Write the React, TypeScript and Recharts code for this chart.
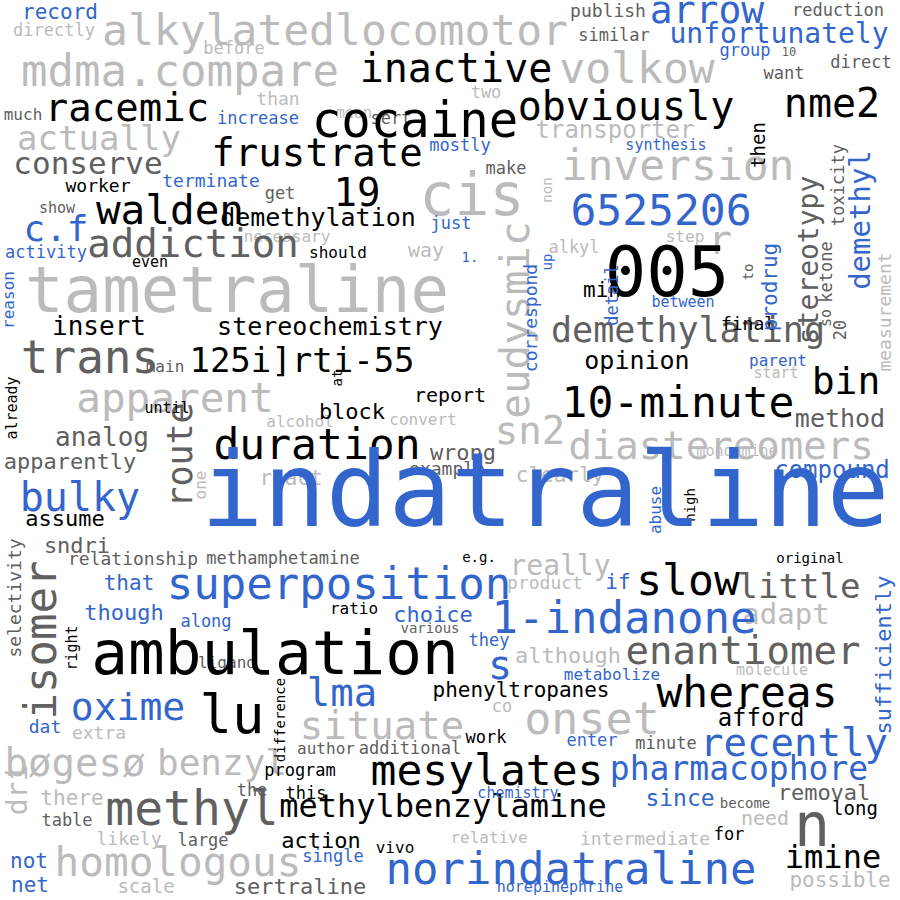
import { ScatterChart, Scatter, XAxis, YAxis } from "recharts";

// [word, x, y, weight, vertical]
type W = [string, number, number, number, number?];

const blueWords: W[] = [
  ["indatraline", 545, 490, 104], ["arrow", 707, 10, 38], ["unfortunately", 779, 33, 28],
  ["6525206", 661, 210, 43], ["c.f", 56, 228, 36], ["demethyl", 860, 220, 29, 1],
  ["bulky", 80, 497, 40], ["compound", 832, 470, 24], ["superposition", 339, 583, 44],
  ["1-indanone", 624, 617, 44], ["that", 129, 583, 21], ["if", 618, 582, 21],
  ["though", 124, 612, 22], ["choice", 433, 614, 22], ["along", 206, 621, 17],
  ["s", 500, 665, 40], ["they", 489, 640, 17], ["metabolize", 612, 674, 16],
  ["lma", 342, 692, 39], ["oxime", 128, 707, 38], ["sufficiently", 883, 655, 22, 1],
  ["dat", 45, 726, 18], ["recently", 794, 742, 39], ["enter", 592, 740, 17],
  ["pharmacophore", 739, 768, 33], ["since", 680, 798, 23], ["chemistry", 518, 793, 15],
  ["single", 333, 856, 17], ["norindatraline", 571, 868, 44], ["not", 29, 861, 21],
  ["net", 30, 885, 21], ["norepinephrine", 560, 887, 15], ["record", 60, 12, 21],
  ["group", 745, 50, 17], ["increase", 258, 118, 17], ["mostly", 460, 145, 17],
  ["synthesis", 666, 145, 15], ["terminate", 211, 180, 18], ["just", 451, 223, 17],
  ["activity", 46, 252, 17], ["1.", 470, 257, 14], ["up", 547, 262, 14, 1],
  ["correspond", 530, 318, 18, 1], ["detail", 612, 295, 17, 1], ["prodrug", 770, 287, 21, 1],
  ["between", 683, 302, 15], ["reason", 8, 300, 16, 1], ["parent", 778, 360, 16],
  ["abuse", 655, 510, 16, 1],
];

const blackWords: W[] = [
  ["ambulation", 275, 652, 61], ["cocaine", 415, 120, 49], ["inactive", 456, 68, 40],
  ["obviously", 626, 106, 40], ["nme2", 832, 103, 40], ["racemic", 127, 107, 39],
  ["frustrate", 317, 152, 39], ["19", 357, 192, 39], ["walden", 170, 210, 41],
  ["demethylation", 318, 217, 25], ["005", 667, 272, 69], ["125i]rti-55", 302, 360, 34],
  ["stereochemistry", 330, 326, 25], ["insert", 99, 326, 26], ["10-minute", 678, 402, 43],
  ["bin", 846, 381, 38], ["opinion", 637, 360, 25], ["duration", 317, 444, 43],
  ["report", 450, 395, 20], ["block", 352, 411, 22], ["assume", 65, 518, 22],
  ["slow", 688, 580, 43], ["original", 810, 558, 14], ["ratio", 354, 608, 16],
  ["right", 72, 648, 15, 1], ["lu", 232, 714, 54], ["phenyltropanes", 521, 690, 21],
  ["whereas", 747, 692, 43], ["difference", 280, 720, 14, 1], ["afford", 761, 718, 24],
  ["work", 486, 737, 17], ["mesylates", 487, 770, 43], ["program", 300, 770, 17],
  ["this", 306, 793, 17], ["methylbenzylamine", 443, 806, 32], ["long", 855, 808, 19],
  ["action", 321, 840, 22], ["vivo", 395, 847, 16], ["for", 729, 834, 17],
  ["imine", 833, 857, 32], ["then", 758, 145, 19, 1], ["worker", 98, 185, 18],
  ["should", 338, 252, 16], ["even", 150, 262, 15], ["min", 602, 290, 21],
  ["final", 748, 323, 18], ["already", 12, 408, 15, 1], ["at", 337, 378, 14, 1],
  ["until", 167, 408, 15], ["high", 690, 505, 14, 1], ["e.g.", 479, 557, 14],
];

const darkWords: W[] = [
  ["conserve", 88, 163, 31], ["addiction", 193, 243, 39], ["stereotypy", 808, 260, 28, 1],
  ["demethylating", 688, 330, 35], ["trans", 90, 357, 46], ["analog", 102, 437, 26],
  ["route", 180, 455, 35, 1], ["method", 840, 418, 25], ["wrong", 463, 452, 22],
  ["apparently", 70, 461, 22], ["example", 447, 468, 18], ["sndri", 77, 545, 22],
  ["relationship", 133, 558, 18], ["methamphetamine", 283, 558, 17], ["little", 799, 586, 34],
  ["isomer", 40, 640, 44, 1], ["various", 430, 628, 14], ["enantiomer", 743, 650, 39],
  ["selectivity", 14, 598, 18, 1], ["ligand", 227, 662, 16], ["minute", 666, 743, 17],
  ["author", 326, 748, 16], ["additional", 410, 748, 17], ["methyl", 192, 808, 48],
  ["the", 252, 790, 17], ["removal", 824, 792, 22], ["table", 67, 820, 17],
  ["n", 812, 825, 60], ["large", 203, 840, 17], ["sertraline", 300, 886, 22],
  ["publish", 608, 10, 18], ["reduction", 838, 10, 17], ["similar", 614, 35, 17],
  ["10", 789, 52, 12], ["direct", 861, 62, 17], ["want", 784, 73, 17],
  ["much", 23, 114, 16], ["sert", 391, 118, 17], ["make", 506, 168, 17],
  ["get", 280, 193, 17], ["show", 57, 208, 15], ["toxicity", 838, 185, 17, 1],
  ["ketone", 826, 272, 17, 1], ["so", 826, 318, 15, 1], ["20", 840, 330, 17, 1],
  ["to", 748, 272, 14, 1], ["main", 165, 366, 16], ["become", 745, 803, 14],
];

const lightWords: W[] = [
  ["tametraline", 237, 290, 64], ["alkylatedlocomotor", 335, 30, 43], ["mdma.compare", 180, 70, 44],
  ["cis", 472, 195, 58], ["volkow", 637, 68, 43], ["actually", 99, 138, 34],
  ["inversion", 678, 165, 43], ["transporter", 615, 130, 24], ["r", 720, 240, 40],
  ["eudysmic", 515, 320, 41, 1], ["apparent", 175, 398, 41], ["sn2", 530, 430, 39],
  ["diastereomers", 721, 445, 39], ["clearly", 560, 475, 21], ["react", 291, 478, 21],
  ["really", 560, 565, 28], ["product", 545, 582, 18], ["adapt", 786, 614, 29],
  ["although", 568, 655, 22], ["onset", 592, 718, 45], ["co", 502, 706, 17],
  ["situate", 382, 725, 39], ["extra", 99, 732, 18], ["bøgesø", 75, 762, 39],
  ["benzyl", 222, 762, 36], ["there", 72, 798, 21], ["dri", 17, 790, 28, 1],
  ["need", 765, 818, 20], ["likely", 129, 838, 18], ["relative", 489, 837, 16],
  ["intermediate", 645, 838, 18], ["homologous", 178, 862, 41], ["scale", 146, 886, 19],
  ["possible", 840, 880, 21], ["directly", 54, 30, 17], ["before", 234, 48, 17],
  ["than", 278, 98, 18], ["mean", 354, 113, 15], ["two", 486, 92, 17],
  ["measurement", 884, 312, 18, 1], ["necessary", 287, 236, 16], ["non", 547, 190, 14, 1],
  ["way", 426, 250, 20], ["alkyl", 574, 247, 17], ["step", 685, 236, 16],
  ["start", 776, 373, 15], ["alcohol", 300, 421, 16], ["convert", 423, 419, 16],
  ["monoamine", 737, 451, 15], ["one", 200, 485, 16, 1], ["molecule", 772, 670, 15],
];

const groups: { words: W[]; color: string }[] = [
  { words: lightWords, color: "#bbbbbb" },
  { words: darkWords, color: "#606060" },
  { words: blackWords, color: "#000000" },
  { words: blueWords, color: "#3366cc" },
];

const toRows = (ws: W[]) =>
  ws.map(([word, x, y, weight, vertical]) => ({ word, x, y, weight, vertical: !!vertical }));

const Word = (color: string) => (props: any) => {
  const { cx, cy, payload } = props;
  return (
    <text
      x={cx}
      y={cy}
      textAnchor="middle"
      dominantBaseline="central"
      fontFamily="DejaVu Sans Mono"
      fontSize={payload.weight}
      fill={color}
      transform={payload.vertical ? `rotate(-90 ${cx} ${cy})` : undefined}
    >
      {payload.word}
    </text>
  );
};

export default function App() {
  return (
    <div style={{ position: "absolute", left: 0, top: 0, width: 900, height: 900, background: "#fff" }}>
      <ScatterChart width={900} height={900} margin={{ top: 0, right: 0, bottom: 0, left: 0 }}>
        <XAxis type="number" dataKey="x" domain={[0, 900]} hide />
        <YAxis type="number" dataKey="y" domain={[0, 900]} reversed hide />
        {groups.map((g, i) => (
          <Scatter key={i} data={toRows(g.words)} shape={Word(g.color)} isAnimationActive={false} />
        ))}
      </ScatterChart>
    </div>
  );
}
